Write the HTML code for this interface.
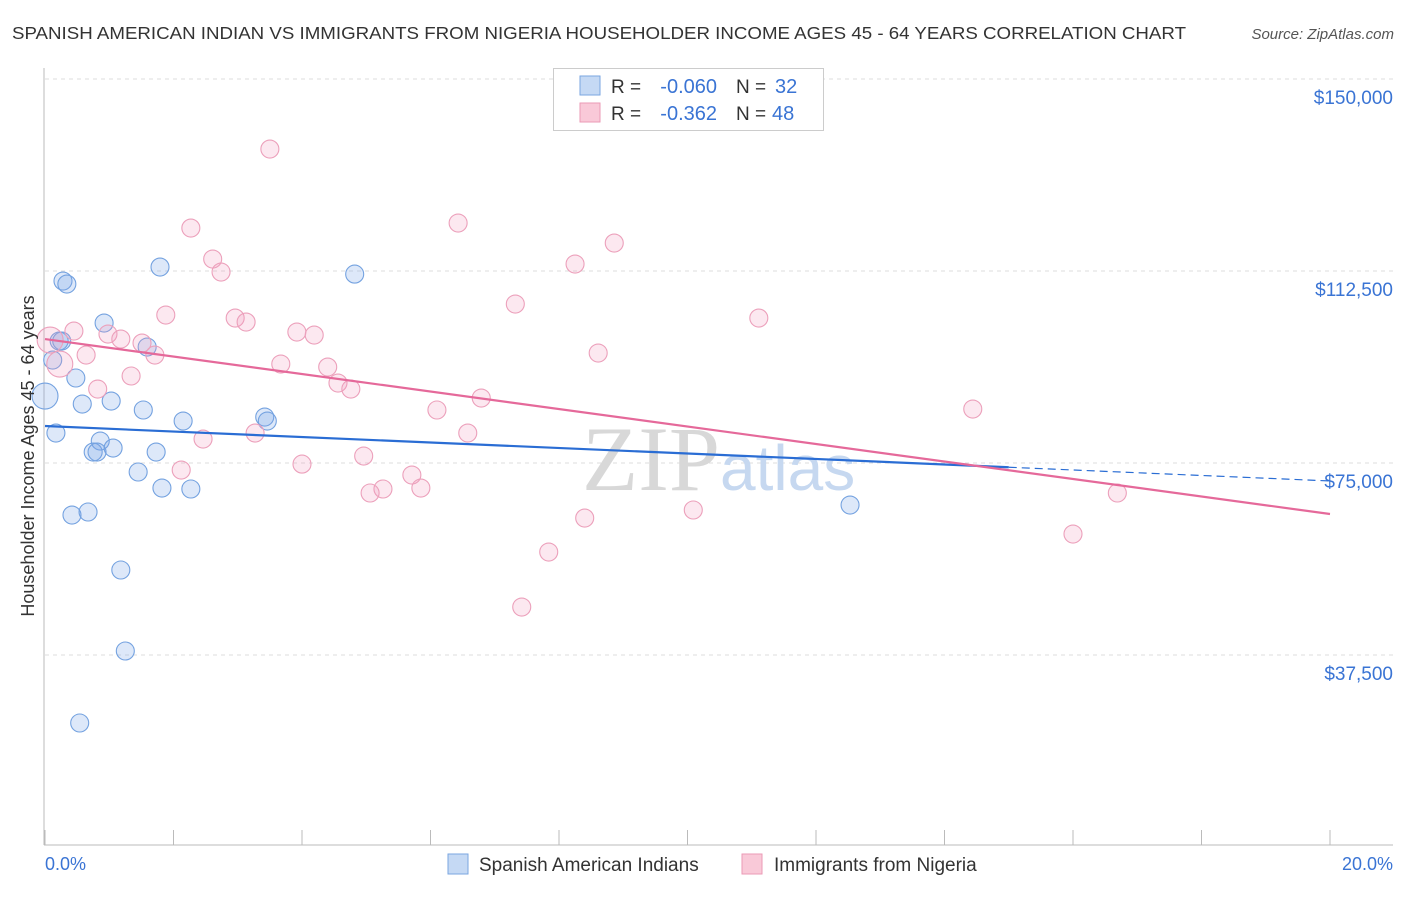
<!DOCTYPE html>
<html><head><meta charset="utf-8"><style>
body{margin:0;background:#fff;font-family:"Liberation Sans",sans-serif;}
</style></head><body>
<svg width="1406" height="892" xmlns="http://www.w3.org/2000/svg" font-family="Liberation Sans, sans-serif">
<text x="12" y="39" font-size="17.5" fill="#333" textLength="1174" lengthAdjust="spacingAndGlyphs">SPANISH AMERICAN INDIAN VS IMMIGRANTS FROM NIGERIA HOUSEHOLDER INCOME AGES 45 - 64 YEARS CORRELATION CHART</text>
<text x="1394" y="39" font-size="15" fill="#555" font-style="italic" text-anchor="end">Source: ZipAtlas.com</text>
<g id="grid"></g>
<text x="720" y="490" font-size="92" fill="#d8d8d8" text-anchor="end" font-family="Liberation Serif, serif">ZIP</text>
<text x="720" y="490" font-size="64" fill="#c6d8f0">atlas</text>
<line x1="44" y1="68" x2="44" y2="845" stroke="#bbb"/>
<line x1="44" y1="845" x2="1393" y2="845" stroke="#bbb"/>
<g id="marks"></g>
<text transform="translate(34,456) rotate(-90)" font-size="18" fill="#333" text-anchor="middle">Householder Income Ages 45 - 64 years</text>
<text x="45" y="870" font-size="18" fill="#3a74d4">0.0%</text>
<text x="1393" y="870" font-size="18" fill="#3a74d4" text-anchor="end">20.0%</text>
<g>
<rect x="553.5" y="68.5" width="270" height="62" fill="#fff" stroke="#ccc"/>
<rect x="580" y="76" width="20" height="19" fill="#c5d9f4" stroke="#7aa6e0"/>
<rect x="580" y="103" width="20" height="19" fill="#f9c9d8" stroke="#eb9ab6"/>
<text x="611" y="93" font-size="19" fill="#333">R =</text>
<text x="717" y="93" font-size="20" fill="#3a74d4" text-anchor="end">-0.060</text>
<text x="736" y="93" font-size="19" fill="#333">N =</text>
<text x="775" y="93" font-size="20" fill="#3a74d4">32</text>
<text x="611" y="120" font-size="19" fill="#333">R =</text>
<text x="717" y="120" font-size="20" fill="#3a74d4" text-anchor="end">-0.362</text>
<text x="736" y="120" font-size="19" fill="#333">N =</text>
<text x="772" y="120" font-size="20" fill="#3a74d4">48</text>
</g>
<g>
<rect x="448" y="854" width="20" height="20" fill="#c5d9f4" stroke="#7aa6e0"/>
<text x="479" y="871" font-size="19" fill="#333">Spanish American Indians</text>
<rect x="742" y="854" width="20" height="20" fill="#f9c9d8" stroke="#eb9ab6"/>
<text x="774" y="871" font-size="19" fill="#333">Immigrants from Nigeria</text>
</g>
</svg>
<script>
const yTicks=[150000,112500,75000,37500];
const yTickLabels=["$150,000","$112,500","$75,000","$37,500"];
const xTicks=[0,2,4,6,8,10,12,14,16,18,20];
const blueX=[0.28,0.34,1.79,4.82,0.92,0.22,1.59,0.12,0.0,0.48,0.58,1.03,1.53,2.15,3.42,3.46,0.17,0.86,0.75,0.81,1.06,1.73,1.45,1.82,2.27,0.42,0.67,1.18,1.25,0.54,12.53,0.26];
const blueY=[110540,109950,113270,111900,102340,98820,97650,95110,88080,91600,86520,87100,85350,83200,83980,83200,80850,79290,77140,77140,77920,77140,73240,70110,69920,64840,65430,54100,38280,24220,66790,98820];
const blueBig=[8];
const pinkX=[3.50,2.27,6.43,8.86,8.25,2.61,2.74,7.32,1.88,2.96,3.13,11.11,0.45,0.98,1.18,1.51,3.92,4.19,0.08,0.64,1.71,8.61,0.23,3.67,4.40,1.34,0.82,4.56,4.76,6.79,6.10,14.44,2.46,3.27,6.58,4.96,4.00,2.12,5.71,5.26,5.06,5.85,16.69,10.09,8.40,16.00,7.84,7.42];
const pinkY=[136320,120890,121870,117960,113860,114840,112300,106050,103900,103310,102530,103310,100770,100190,99210,98430,100580,99990,99020,96090,96090,96480,94330,94330,93740,91990,89450,90620,89450,87690,85350,85540,79680,80850,80850,76360,74790,73630,72650,69920,69140,70110,69140,65820,64250,61130,57610,46870];
const pinkBig=[18,22];
const blueTrend=[82220,71490]; const blueSolidEnd=15;
const pinkTrend=[99210,65040];
const NS="http://www.w3.org/2000/svg";
const sx=v=>45+v/20*1285, sy=v=>847-v/37500*192;
function mk(t,a,p){const e=document.createElementNS(NS,t);for(const k in a)e.setAttribute(k,a[k]);p.appendChild(e);return e;}
const grid=document.getElementById('grid'),marks=document.getElementById('marks');
yTicks.forEach((v,i)=>{
 const l=mk('line',{x1:45,x2:1393,y1:sy(v),y2:sy(v),stroke:'#ddd','stroke-dasharray':'4,4'},grid);
 
 
 const t=mk('text',{x:1393,y:sy(v)+25,'font-size':19,fill:'#3a74d4','text-anchor':'end'},grid);
 t.textContent=yTickLabels[i];
 
 
});
xTicks.forEach(v=>{
 const l=mk('line',{x1:sx(v),x2:sx(v),y1:830,y2:845,stroke:'#bbb'},grid);
 
 
});
function pts(X,Y,big,fill,stroke,name){X.forEach((x,i)=>{
 const c=mk('circle',{cx:sx(x),cy:sy(Y[i]),r:big.includes(i)?13:9,fill:fill,stroke:stroke,'stroke-width':1.1},marks);
 
 
});}
pts(blueX,blueY,blueBig,'rgba(120,165,230,0.25)','#74a2e0','point-spanish');
pts(pinkX,pinkY,pinkBig,'rgba(240,150,185,0.22)','#eca0bb','point-nigeria');
const by=x=>blueTrend[0]+(blueTrend[1]-blueTrend[0])*x/20;
let l=mk('line',{x1:sx(0),y1:sy(by(0)),x2:sx(blueSolidEnd),y2:sy(by(blueSolidEnd)),stroke:'#2a6dd4','stroke-width':2.2},marks);


l=mk('line',{x1:sx(blueSolidEnd),y1:sy(by(blueSolidEnd)),x2:sx(20),y2:sy(by(20)),stroke:'#2a6dd4','stroke-width':1.2,'stroke-dasharray':'8,5'},marks);


l=mk('line',{x1:sx(0),y1:sy(pinkTrend[0]),x2:sx(20),y2:sy(pinkTrend[1]),stroke:'#e5699a','stroke-width':2.2},marks);


</script>
</body></html>
